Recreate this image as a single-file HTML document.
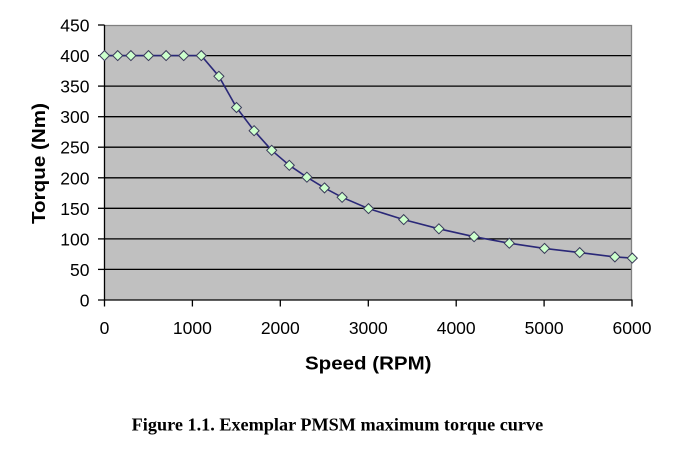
<!DOCTYPE html>
<html><head><meta charset="utf-8"><style>
html,body{margin:0;padding:0;background:#fff;}
svg{display:block;}
</style></head><body>
<svg width="682" height="460" viewBox="0 0 682 460" xmlns="http://www.w3.org/2000/svg">
<rect x="0" y="0" width="682" height="460" fill="#fff"/>
<rect x="104.5" y="25" width="527.5" height="275" fill="#c0c0c0"/>
<g stroke="#000" stroke-width="1.3">
<line x1="104" y1="269.4" x2="632" y2="269.4"/>
<line x1="104" y1="238.9" x2="632" y2="238.9"/>
<line x1="104" y1="208.3" x2="632" y2="208.3"/>
<line x1="104" y1="177.8" x2="632" y2="177.8"/>
<line x1="104" y1="147.2" x2="632" y2="147.2"/>
<line x1="104" y1="116.7" x2="632" y2="116.7"/>
<line x1="104" y1="86.1" x2="632" y2="86.1"/>
<line x1="104" y1="55.6" x2="632" y2="55.6"/>
</g>
<polyline points="104.5,25.5 631.5,25.5 631.5,300" fill="none" stroke="#808080" stroke-width="1.3"/>
<g stroke="#000" stroke-width="1.3">
<line x1="104.5" y1="25" x2="104.5" y2="300.5"/>
<line x1="98" y1="300" x2="632.5" y2="300"/>
<line x1="98" y1="25" x2="104.5" y2="25"/>
<line x1="98" y1="55.6" x2="104.5" y2="55.6"/>
<line x1="98" y1="86.1" x2="104.5" y2="86.1"/>
<line x1="98" y1="116.7" x2="104.5" y2="116.7"/>
<line x1="98" y1="147.2" x2="104.5" y2="147.2"/>
<line x1="98" y1="177.8" x2="104.5" y2="177.8"/>
<line x1="98" y1="208.3" x2="104.5" y2="208.3"/>
<line x1="98" y1="238.9" x2="104.5" y2="238.9"/>
<line x1="98" y1="269.4" x2="104.5" y2="269.4"/>
<line x1="104.5" y1="300" x2="104.5" y2="306.5"/>
<line x1="192.4" y1="300" x2="192.4" y2="306.5"/>
<line x1="280.3" y1="300" x2="280.3" y2="306.5"/>
<line x1="368.3" y1="300" x2="368.3" y2="306.5"/>
<line x1="456.2" y1="300" x2="456.2" y2="306.5"/>
<line x1="544.1" y1="300" x2="544.1" y2="306.5"/>
<line x1="632" y1="300" x2="632" y2="306.5"/>
</g>
<g font-family="Liberation Sans, Arial, sans-serif" font-size="17.5" fill="#000" text-anchor="end">
<text x="89.5" y="31.5">450</text>
<text x="89.5" y="62">400</text>
<text x="89.5" y="92.6">350</text>
<text x="89.5" y="123.2">300</text>
<text x="89.5" y="153.7">250</text>
<text x="89.5" y="184.3">200</text>
<text x="89.5" y="214.8">150</text>
<text x="89.5" y="245.4">100</text>
<text x="89.5" y="275.9">50</text>
<text x="89.5" y="306.3">0</text>
</g>
<g font-family="Liberation Sans, Arial, sans-serif" font-size="17.5" fill="#000" text-anchor="middle">
<text x="104.5" y="334">0</text>
<text x="192.4" y="334">1000</text>
<text x="280.3" y="334">2000</text>
<text x="368.3" y="334">3000</text>
<text x="456.2" y="334">4000</text>
<text x="544.1" y="334">5000</text>
<text x="632" y="334">6000</text>
</g>
<text x="305" y="369.5" font-family="Liberation Sans, Arial, sans-serif" font-weight="bold" font-size="18.5" textLength="126.5" lengthAdjust="spacingAndGlyphs">Speed (RPM)</text>
<text transform="translate(45,224) rotate(-90)" x="0" y="0" font-family="Liberation Sans, Arial, sans-serif" font-weight="bold" font-size="18.5" textLength="121" lengthAdjust="spacingAndGlyphs">Torque (Nm)</text>
<text x="131.7" y="430.5" font-family="Liberation Serif, 'Times New Roman', serif" font-weight="bold" font-size="17.5" textLength="411.5" lengthAdjust="spacingAndGlyphs">Figure 1.1. Exemplar PMSM maximum torque curve</text>
<polyline fill="none" stroke="#2a2878" stroke-width="1.6" stroke-linejoin="round" points="104.5,55.6 117.7,55.6 130.9,55.6 148.5,55.6 166.1,55.6 183.7,55.6 201.3,55.6 218.9,76.3 236.5,107.5 254.1,130.7 271.7,150.3 289.3,165.3 306.9,177.2 324.5,187.9 342.1,197.3 368.5,208.6 403.7,219.6 438.9,228.8 474.1,236.7 509.3,243.2 544.5,248.4 579.7,252.6 614.9,256.9 632.3,258.1"/>
<g fill="#ccffcc" stroke="#3a3a5a" stroke-width="1">
<path d="M104.5,50.6l5,5l-5,5l-5,-5z"/>
<path d="M117.7,50.6l5,5l-5,5l-5,-5z"/>
<path d="M130.9,50.6l5,5l-5,5l-5,-5z"/>
<path d="M148.5,50.6l5,5l-5,5l-5,-5z"/>
<path d="M166.1,50.6l5,5l-5,5l-5,-5z"/>
<path d="M183.7,50.6l5,5l-5,5l-5,-5z"/>
<path d="M201.3,50.6l5,5l-5,5l-5,-5z"/>
<path d="M218.9,71.3l5,5l-5,5l-5,-5z"/>
<path d="M236.5,102.5l5,5l-5,5l-5,-5z"/>
<path d="M254.1,125.7l5,5l-5,5l-5,-5z"/>
<path d="M271.7,145.3l5,5l-5,5l-5,-5z"/>
<path d="M289.3,160.3l5,5l-5,5l-5,-5z"/>
<path d="M306.9,172.2l5,5l-5,5l-5,-5z"/>
<path d="M324.5,182.9l5,5l-5,5l-5,-5z"/>
<path d="M342.1,192.3l5,5l-5,5l-5,-5z"/>
<path d="M368.5,203.6l5,5l-5,5l-5,-5z"/>
<path d="M403.7,214.6l5,5l-5,5l-5,-5z"/>
<path d="M438.9,223.8l5,5l-5,5l-5,-5z"/>
<path d="M474.1,231.7l5,5l-5,5l-5,-5z"/>
<path d="M509.3,238.2l5,5l-5,5l-5,-5z"/>
<path d="M544.5,243.4l5,5l-5,5l-5,-5z"/>
<path d="M579.7,247.6l5,5l-5,5l-5,-5z"/>
<path d="M614.9,251.9l5,5l-5,5l-5,-5z"/>
<path d="M632.3,253.1l5,5l-5,5l-5,-5z"/>
</g>
</svg>
</body></html>
